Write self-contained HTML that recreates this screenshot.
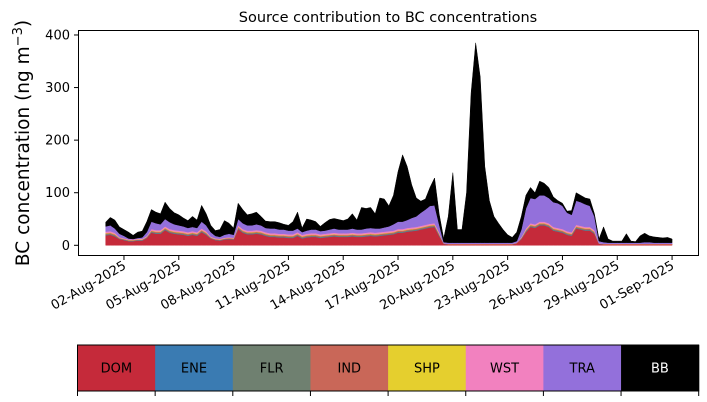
<!DOCTYPE html>
<html><head><meta charset="utf-8"><style>
body{margin:0;background:#fff;}
svg{display:block;font-family:"DejaVu Sans","Liberation Sans",sans-serif;}
</style></head><body>
<svg id="chart" width="707" height="402" viewBox="0 0 707 402">
<text x="388" y="22" font-size="14.5" text-anchor="middle">Source contribution to BC concentrations</text>
<text transform="translate(29,143) rotate(-90)" font-size="18.5" text-anchor="middle">BC concentration (ng m<tspan dy="-7" font-size="13">−3</tspan><tspan dy="7">)</tspan></text>
<g id="layers"></g>
<rect x="78.5" y="30.5" width="620" height="225" fill="none" stroke="#000" stroke-width="1"/>
<g id="yaxis"></g>
<g id="xaxis"></g>
<g id="legend"></g>
</svg>
<script>
const names = ["DOM","ENE","FLR","IND","SHP","WST","TRA","BB"];
const colors = ["#c52a3a","#3a7bb2","#6f8070","#c96758","#e5cf2e","#f281bf","#9370db","#000000"];
const yTicks = [0,100,200,300,400];
const xTickLabels = ["02-Aug-2025","05-Aug-2025","08-Aug-2025","11-Aug-2025","14-Aug-2025","17-Aug-2025","20-Aug-2025","23-Aug-2025","26-Aug-2025","29-Aug-2025","01-Sep-2025"];
const xTickDays = [1,4,7,10,13,16,19,22,25,28,31];
const stepDays = 0.25;
const DOM = [19,20,17,12, 10,8,8,9, 9,14,24,22, 22,29,24,22, 21,20,18,20, 18,25,20,13, 10,9,11,12, 11,31,24,21,
 21,22,21,18, 16,16,15,15, 14,14,18,13, 15,16,16,14, 15,16,17,16, 16,16,17,16, 16,17,18,17, 18,19,20,21,
 24,24,26,27, 28,30,32,34, 35,18,3,2, 2,2,2,2, 2,2,2,2, 2,2,2,2, 2,2,4,12, 25,35,33,38, 38,35,28,26,
 24,20,18,32, 30,28,28,22, 3,2,2,2, 2,2,2,2, 2,2,2,2, 2,2,2,2, 2];
const ENE = [.6,.6,.6,.3, .3,.3,.3,.3, .3,.3,.6,.6, .6,.6,.6,.6, .6,.6,.6,.6, .6,.6,.6,.3, .3,.3,.3,.3, .3,.6,.6,.6,
 .6,.6,.6,.6, .6,.6,.6,.6, .6,.6,.6,.6, .6,.6,.6,.6, .6,.6,.6,.6, .6,.6,.6,.6, .6,.6,.6,.6, .6,.6,.6,.6,
 .6,.6,.6,.6, .6,.6,.6,.6, .6,.6,.1,.1, .1,.1,.1,.1, .1,.1,.1,.1, .1,.1,.1,.1, .1,.1,.1,.3, .6,.6,.6,.6, .6,.6,.6,.6,
 .6,.6,.6,.6, .6,.6,.6,.6, .1,.1,.1,.1, .1,.1,.1,.1, .1,.1,.1,.1, .1,.1,.1,.1, .1];
const FLR = [1.4,1.4,1.4,.7, .7,.7,.7,.7, .7,.7,1.4,1.4, 1.4,1.4,1.4,1.4, 1.4,1.4,1.4,1.4, 1.4,1.4,1.4,.7, .7,.7,.7,.7, .7,1.4,1.4,1.4,
 1.4,1.4,1.4,1.4, 1.4,1.4,1.4,1.4, 1.4,1.4,1.4,1.4, 1.4,1.4,1.4,1.4, 1.4,1.4,1.4,1.4, 1.4,1.4,1.4,1.4, 1.4,1.4,1.4,1.4, 1.4,1.4,1.4,1.4,
 1.4,1.4,1.4,1.4, 1.4,1.4,1.4,1.4, 1.4,1.4,.2,.2, .2,.2,.2,.2, .2,.2,.2,.2, .2,.2,.2,.2, .2,.2,.2,.7, 1.4,1.4,1.4,1.4, 1.4,1.4,1.4,1.4,
 1.4,1.4,1.4,1.4, 1.4,1.4,1.4,1.4, .2,.2,.2,.2, .2,.2,.2,.2, .2,.2,.2,.2, .2,.2,.2,.2, .2];
const IND = [1.6,1.6,1.6,.8, .8,.8,.8,.8, .8,.8,1.6,1.6, 1.6,1.6,1.6,1.6, 1.6,1.6,1.6,1.6, 1.6,1.6,1.6,.8, .8,.8,.8,.8, .8,1.6,1.6,1.6,
 1.6,1.6,1.6,1.6, 1.6,1.6,1.6,1.6, 1.6,1.6,1.6,1.6, 1.6,1.6,1.6,1.6, 1.6,1.6,1.6,1.6, 1.6,1.6,1.6,1.6, 1.6,1.6,1.6,1.6, 1.6,1.6,1.6,1.6,
 1.6,1.6,1.6,1.6, 1.6,1.6,1.6,1.6, 1.6,1.6,.3,.3, .3,.3,.3,.3, .3,.3,.3,.3, .3,.3,.3,.3, .3,.3,.3,.8, 1.6,1.6,1.6,1.6, 1.6,1.6,1.6,1.6,
 1.6,1.6,1.6,1.6, 1.6,1.6,1.6,1.6, .3,.3,.3,.3, .3,.3,.3,.3, .3,.3,.3,.3, .3,.3,.3,.3, .3];
const SHP = [.8,.8,.8,.4, .4,.4,.4,.4, .4,.4,.8,.8, .8,.8,.8,.8, .8,.8,.8,.8, .8,.8,.8,.4, .4,.4,.4,.4, .4,.8,.8,.8,
 .8,.8,.8,.8, .8,.8,.8,.8, .8,.8,.8,.8, .8,.8,.8,.8, .8,.8,.8,.8, .8,.8,.8,.8, .8,.8,.8,.8, .8,.8,.8,.8,
 .8,.8,.8,.8, .8,.8,.8,.8, .8,.8,.1,.1, .1,.1,.1,.1, .1,.1,.1,.1, .1,.1,.1,.1, .1,.1,.1,.4, .8,.8,.8,.8, .8,.8,.8,.8,
 .8,.8,.8,.8, .8,.8,.8,.8, .1,.1,.1,.1, .1,.1,.1,.1, .1,.1,.1,.1, .1,.1,.1,.1, .1];
const WST = [2.6,2.6,2.6,1.3, 1.3,1.3,1.3,1.3, 1.3,1.3,2.6,2.6, 2.6,2.6,2.6,2.6, 2.6,2.6,2.6,2.6, 2.6,2.6,2.6,1.3, 1.3,1.3,1.3,1.3, 1.3,2.6,2.6,2.6,
 2.6,2.6,2.6,2.6, 2.6,2.6,2.6,2.6, 2.6,2.6,2.6,2.6, 2.6,2.6,2.6,2.6, 2.6,2.6,2.6,2.6, 2.6,2.6,2.6,2.6, 2.6,2.6,2.6,2.6, 2.6,2.6,2.6,2.6,
 2.6,2.6,2.6,2.6, 2.6,2.6,2.6,2.6, 2.6,2.6,.3,.3, .3,.3,.3,.3, .3,.3,.3,.3, .3,.3,.3,.3, .3,.3,.3,1.3, 2.6,2.6,2.6,2.6, 2.6,2.6,2.6,2.6,
 2.6,2.6,2.6,2.6, 2.6,2.6,2.6,2.6, .3,.3,.3,.3, .3,.3,.3,.3, .3,.3,.3,.3, .3,.3,.3,.3, .3];
const TRA = [10,11,8,6.5, 4.5,1.5,.5,1.5, 2.5,7.5,14,13, 11,14,13,11, 10,9,8,8, 8,13,11,8.5, 4.5,3.5,5.5,6.5, 5.5,12,11,10,
 10,11,10,8, 9,9,8,8, 7,7,7,5, 6,7,7,6, 6,7,8,7, 7,7,8,7, 7,8,8,8, 7,8,9,12,
 14,14,15,18, 20,25,29,34, 34,15,2,2, 2,2,2,2, 2,2,2,2, 2,2,2,2, 2,2,3,14.5, 38,48,48,50, 50,48,47,47,
 44,35,33,46, 45,43,40,26, 4,3,2,2, 2,2,2,2, 2,2,3,3, 2,2,2,2, 2];
const BB = [8,15,16,13, 12,12,7,11, 12,20,23,21, 20,32,26,22, 20,16,14,20, 15,31,22,13, 10,14,27,20, 13,30,26,20,
 22,23,17,13, 13,13,13,10, 10,17,31,8, 22,18,15,9, 15,19,19,19, 17,20,28,18, 42,38,39,28, 58,54,39,55,
 95,127,102,63, 35,22,20,35, 52,20,7,50, 133,25,25,95, 285,380,315,145, 80,50,37,25, 15,10,17,25, 25,20,12,27, 23,20,10,5,
 5,3,8,15, 13,12,13,5, 4,29,7,3, 3,3,17,3, 2,13,17,12, 11,10,9,10, 7];
const series = [DOM,ENE,FLR,IND,SHP,WST,TRA,BB];

const NS="http://www.w3.org/2000/svg";
const X0=105.7, PXDAY=18.27, Y0=245.3, PXUNIT=0.5258;
function xScale(d){return X0+d*PXDAY;}
function yScale(v){return Y0-v*PXUNIT;}
function mk(tag,attrs,parent){const e=document.createElementNS(NS,tag);for(const k in attrs)e.setAttribute(k,attrs[k]);parent.appendChild(e);return e;}

const layers=document.getElementById('layers');
const n=DOM.length;
let base=new Array(n).fill(0);
series.forEach((s,si)=>{
  const top=base.map((b,i)=>b+s[i]);
  let pts=[];
  for(let i=0;i<n;i++)pts.push(xScale(i*stepDays).toFixed(2)+','+yScale(top[i]).toFixed(2));
  for(let i=n-1;i>=0;i--)pts.push(xScale(i*stepDays).toFixed(2)+','+yScale(base[i]).toFixed(2));
  const p=mk('polygon',{points:pts.join(' '),fill:colors[si],stroke:colors[si],'stroke-width':'0.5','stroke-linejoin':'round'},layers);
  
  
  base=top;
});

const ya=document.getElementById('yaxis');
yTicks.forEach(t=>{
  const y=yScale(t);
  const l=mk('line',{x1:74,x2:78.5,y1:y,y2:y,stroke:'#000','stroke-width':1},ya);
  
  
  const tx=mk('text',{x:70,y:y+4.5,'font-size':13,'text-anchor':'end'},ya);
  tx.textContent=t;
  
  
});

const xa=document.getElementById('xaxis');
xTickDays.forEach((d,i)=>{
  const x=xScale(d);
  const l=mk('line',{x1:x,x2:x,y1:255.5,y2:260,stroke:'#000','stroke-width':1},xa);
  
  
  const tx=mk('text',{transform:`translate(${x+3},${268}) rotate(-30)`,'font-size':13,'text-anchor':'end'},xa);
  tx.textContent=xTickLabels[i];
  
  
});

const lg=document.getElementById('legend');
const LX0=77.5, LW=(698.7-77.5)/8, LY=345, LH=46;
names.forEach((nm,i)=>{
  const r=mk('rect',{x:LX0+i*LW,y:LY,width:LW+0.5,height:LH,fill:colors[i]},lg);
  
  
  const t=mk('text',{x:LX0+(i+0.5)*LW,y:LY+LH/2+4.5,'font-size':13,'text-anchor':'middle',fill:i===7?'#fff':'#000'},lg);
  t.textContent=nm;
  
  
});
const fr=mk('rect',{x:LX0,y:LY,width:LW*8,height:LH,fill:'none',stroke:'#000','stroke-width':1},lg);


for(let i=0;i<=8;i++){
  const x=LX0+i*LW;
  const l=mk('line',{x1:x,x2:x,y1:LY+LH,y2:LY+LH+5,stroke:'#000','stroke-width':1},lg);
  
  
}
</script>
</body></html>
